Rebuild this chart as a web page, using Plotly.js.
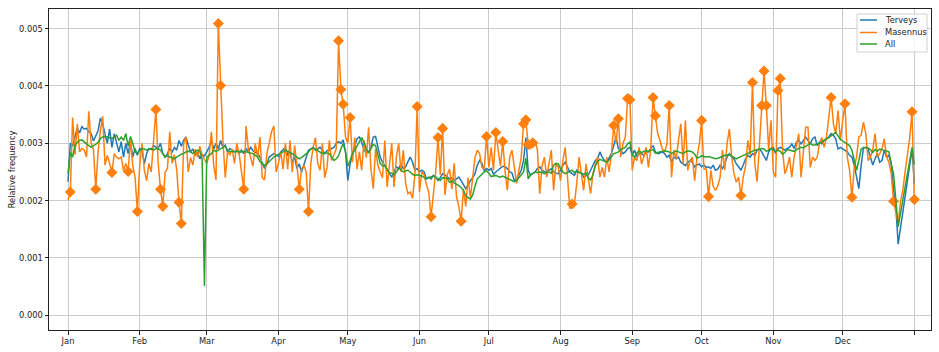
<!DOCTYPE html>
<html><head><meta charset="utf-8">
<script src="https://cdn.plot.ly/plotly-3.0.1.min.js"></script>
<style>html,body{margin:0;padding:0;background:#fff}#chart{width:939px;height:352px}</style>
</head><body><div id="chart"></div>
<script>
// Daily values, index 0 = 2020-01-01, last = 2021-01-01
const terveys = [
0.00233,0.00300,0.00295,0.00312,0.00327,0.00318,0.00329,0.00325,0.00326,0.00320,
0.00317,0.00304,0.00312,0.00322,0.00344,0.00334,0.00316,0.00300,0.00325,0.00293,
0.00317,0.00300,0.00285,0.00303,0.00276,0.00300,0.00282,0.00303,0.00276,0.00291,
0.00279,0.00291,0.00288,0.00264,0.00282,0.00291,0.00289,0.00296,0.00293,0.00291,
0.00300,0.00282,0.00276,0.00282,0.00291,0.00284,0.00293,0.00288,0.00305,0.00295,
0.00305,0.00311,0.00297,0.00285,0.00290,0.00279,0.00285,0.00273,0.00280,0.00278,
0.00285,0.00293,0.00305,0.00290,0.00300,0.00290,0.00305,0.00293,0.00297,0.00285,
0.00291,0.00288,0.00285,0.00288,0.00282,0.00288,0.00282,0.00291,0.00285,0.00293,
0.00287,0.00284,0.00282,0.00276,0.00267,0.00256,0.00264,0.00276,0.00279,0.00282,
0.00280,0.00277,0.00285,0.00289,0.00293,0.00280,0.00284,0.00267,0.00276,0.00256,
0.00264,0.00250,0.00264,0.00276,0.00288,0.00290,0.00293,0.00288,0.00291,0.00293,
0.00288,0.00282,0.00287,0.00288,0.00291,0.00293,0.00300,0.00303,0.00300,0.00306,
0.00285,0.00235,0.00264,0.00282,0.00296,0.00308,0.00311,0.00302,0.00288,0.00285,
0.00285,0.00293,0.00311,0.00312,0.00296,0.00276,0.00267,0.00260,0.00253,0.00247,
0.00241,0.00250,0.00259,0.00256,0.00264,0.00256,0.00259,0.00268,0.00276,0.00267,
0.00253,0.00256,0.00250,0.00253,0.00250,0.00238,0.00241,0.00238,0.00244,0.00241,
0.00235,0.00240,0.00247,0.00245,0.00242,0.00238,0.00240,0.00235,0.00238,0.00241,
0.00235,0.00227,0.00221,0.00227,0.00235,0.00240,0.00247,0.00262,0.00270,0.00265,
0.00253,0.00256,0.00253,0.00256,0.00246,0.00250,0.00253,0.00256,0.00260,0.00259,
0.00256,0.00250,0.00248,0.00235,0.00238,0.00245,0.00253,0.00270,0.00310,0.00253,
0.00244,0.00247,0.00250,0.00256,0.00259,0.00253,0.00250,0.00252,0.00253,0.00256,
0.00250,0.00248,0.00247,0.00253,0.00262,0.00267,0.00258,0.00250,0.00247,0.00244,
0.00253,0.00250,0.00249,0.00241,0.00244,0.00245,0.00253,0.00262,0.00270,0.00273,
0.00285,0.00276,0.00270,0.00267,0.00276,0.00282,0.00296,0.00311,0.00291,0.00288,
0.00282,0.00285,0.00291,0.00293,0.00279,0.00288,0.00276,0.00282,0.00282,0.00279,
0.00285,0.00285,0.00291,0.00296,0.00285,0.00282,0.00283,0.00285,0.00282,0.00276,
0.00279,0.00267,0.00276,0.00273,0.00276,0.00267,0.00264,0.00261,0.00267,0.00270,
0.00267,0.00259,0.00262,0.00264,0.00259,0.00262,0.00258,0.00259,0.00256,0.00262,
0.00253,0.00255,0.00262,0.00256,0.00264,0.00276,0.00282,0.00276,0.00273,0.00264,
0.00259,0.00253,0.00262,0.00273,0.00279,0.00276,0.00282,0.00279,0.00288,0.00291,
0.00285,0.00276,0.00270,0.00285,0.00291,0.00293,0.00282,0.00291,0.00293,0.00291,
0.00288,0.00291,0.00293,0.00299,0.00291,0.00302,0.00305,0.00299,0.00305,0.00311,
0.00305,0.00299,0.00308,0.00311,0.00296,0.00302,0.00299,0.00305,0.00308,0.00311,
0.00317,0.00314,0.00308,0.00290,0.00293,0.00290,0.00288,0.00285,0.00279,0.00276,
0.00262,0.00240,0.00221,0.00262,0.00293,0.00292,0.00290,0.00276,0.00262,0.00273,
0.00282,0.00267,0.00270,0.00288,0.00276,0.00279,0.00264,0.00220,0.00189,0.00124,
null,null,null,null,null,0.00290,0.00230
];
const masennus = [
0.00201,0.00215,0.00345,0.00280,0.00334,0.00285,0.00291,0.00288,0.00276,0.00356,
0.00300,0.00290,0.00220,0.00285,0.00322,0.00347,0.00262,0.00279,0.00265,0.00249,
0.00282,0.00276,0.00273,0.00276,0.00253,0.00265,0.00251,0.00305,0.00262,0.00240,
0.00181,0.00262,0.00300,0.00253,0.00235,0.00265,0.00250,0.00311,0.00359,0.00265,
0.00220,0.00190,0.00250,0.00256,0.00320,0.00265,0.00280,0.00255,0.00197,0.00160,
0.00300,0.00311,0.00250,0.00275,0.00262,0.00290,0.00276,0.00295,0.00280,0.00272,
0.00265,0.00278,0.00320,0.00262,0.00236,0.00509,0.00401,0.00305,0.00240,0.00285,
0.00280,0.00290,0.00265,0.00300,0.00282,0.00255,0.00220,0.00330,0.00290,0.00275,
0.00260,0.00300,0.00276,0.00311,0.00240,0.00236,0.00282,0.00300,0.00320,0.00330,
0.00250,0.00265,0.00285,0.00255,0.00300,0.00255,0.00305,0.00250,0.00296,0.00262,
0.00220,0.00255,0.00262,0.00250,0.00181,0.00265,0.00293,0.00310,0.00265,0.00253,
0.00300,0.00240,0.00258,0.00305,0.00270,0.00280,0.00290,0.00479,0.00394,0.00368,
0.00311,0.00300,0.00345,0.00267,0.00310,0.00255,0.00285,0.00253,0.00305,0.00275,
0.00328,0.00256,0.00221,0.00290,0.00262,0.00250,0.00240,0.00305,0.00224,0.00262,
0.00300,0.00224,0.00276,0.00300,0.00250,0.00288,0.00230,0.00212,0.00215,0.00204,
0.00245,0.00364,0.00215,0.00250,0.00245,0.00228,0.00215,0.00172,0.00215,0.00250,
0.00310,0.00245,0.00326,0.00210,0.00245,0.00255,0.00220,0.00265,0.00207,0.00190,
0.00164,0.00220,0.00190,0.00240,0.00205,0.00240,0.00275,0.00288,0.00282,0.00258,
0.00255,0.00312,0.00258,0.00293,0.00253,0.00319,0.00285,0.00260,0.00303,0.00252,
0.00218,0.00276,0.00288,0.00258,0.00230,0.00253,0.00276,0.00334,0.00341,0.00298,
0.00290,0.00301,0.00305,0.00288,0.00212,0.00260,0.00276,0.00241,0.00264,0.00288,
0.00218,0.00264,0.00258,0.00235,0.00270,0.00293,0.00241,0.00186,0.00194,0.00195,
0.00230,0.00276,0.00247,0.00218,0.00264,0.00241,0.00212,0.00247,0.00264,0.00276,
0.00241,0.00258,0.00241,0.00276,0.00250,0.00282,0.00331,0.00300,0.00343,0.00276,
0.00300,0.00310,0.00378,0.00376,0.00253,0.00276,0.00270,0.00293,0.00264,0.00276,
0.00293,0.00258,0.00290,0.00380,0.00348,0.00317,0.00305,0.00290,0.00285,0.00299,
0.00366,0.00241,0.00288,0.00273,0.00305,0.00334,0.00265,0.00340,0.00253,0.00270,
0.00276,0.00235,0.00276,0.00299,0.00340,0.00255,0.00255,0.00207,0.00253,0.00225,
0.00218,0.00225,0.00241,0.00288,0.00253,0.00299,0.00325,0.00276,0.00247,0.00232,
0.00241,0.00209,0.00241,0.00260,0.00305,0.00280,0.00406,0.00265,0.00233,0.00300,
0.00366,0.00426,0.00366,0.00288,0.00340,0.00250,0.00241,0.00392,0.00413,0.00288,
0.00247,0.00258,0.00276,0.00241,0.00276,0.00300,0.00317,0.00241,0.00288,0.00328,
0.00328,0.00258,0.00276,0.00270,0.00276,0.00300,0.00310,0.00293,0.00311,0.00345,
0.00380,0.00334,0.00317,0.00357,0.00305,0.00340,0.00369,0.00276,0.00253,0.00206,
0.00258,0.00276,0.00311,0.00314,0.00337,0.00317,0.00270,0.00276,0.00288,0.00317,
0.00276,0.00282,0.00290,0.00308,0.00276,0.00267,0.00247,0.00199,0.00180,0.00160,
0.00198,0.00218,0.00250,0.00276,0.00310,0.00355,0.00202
];
const allSeries = [
0.00247,0.00284,0.00276,0.00296,0.00302,0.00305,0.00306,0.00302,0.00299,0.00296,
0.00293,0.00296,0.00298,0.00302,0.00308,0.00311,0.00312,0.00311,0.00309,0.00308,
0.00311,0.00314,0.00305,0.00311,0.00305,0.00317,0.00295,0.00312,0.00300,0.00285,
0.00283,0.00288,0.00291,0.00290,0.00288,0.00290,0.00291,0.00288,0.00291,0.00290,
0.00288,0.00282,0.00276,0.00279,0.00276,0.00275,0.00273,0.00276,0.00279,0.00281,
0.00282,0.00285,0.00286,0.00285,0.00282,0.00285,0.00288,0.00286,0.00272,0.00051,
0.00276,0.00279,0.00282,0.00288,0.00286,0.00288,0.00290,0.00293,0.00295,0.00288,
0.00285,0.00286,0.00285,0.00286,0.00285,0.00285,0.00286,0.00285,0.00284,0.00282,
0.00282,0.00279,0.00276,0.00268,0.00264,0.00261,0.00264,0.00268,0.00273,0.00276,
0.00278,0.00280,0.00282,0.00285,0.00288,0.00286,0.00285,0.00282,0.00279,0.00276,
0.00273,0.00275,0.00278,0.00281,0.00285,0.00290,0.00292,0.00290,0.00287,0.00285,
0.00282,0.00284,0.00283,0.00282,0.00276,0.00270,0.00273,0.00278,0.00290,0.00300,
0.00285,0.00260,0.00270,0.00282,0.00288,0.00296,0.00304,0.00310,0.00302,0.00290,
0.00283,0.00290,0.00298,0.00296,0.00282,0.00265,0.00261,0.00261,0.00255,0.00248,
0.00248,0.00245,0.00250,0.00256,0.00254,0.00250,0.00252,0.00253,0.00250,0.00246,
0.00244,0.00245,0.00244,0.00243,0.00240,0.00238,0.00240,0.00241,0.00243,0.00241,
0.00238,0.00235,0.00240,0.00240,0.00239,0.00232,0.00234,0.00231,0.00229,0.00226,
0.00223,0.00218,0.00209,0.00205,0.00203,0.00210,0.00225,0.00238,0.00242,0.00247,
0.00250,0.00252,0.00248,0.00242,0.00243,0.00244,0.00242,0.00241,0.00243,0.00241,
0.00240,0.00238,0.00236,0.00233,0.00235,0.00240,0.00245,0.00250,0.00274,0.00238,
0.00245,0.00247,0.00250,0.00249,0.00250,0.00249,0.00247,0.00249,0.00250,0.00248,
0.00262,0.00265,0.00264,0.00256,0.00250,0.00247,0.00249,0.00251,0.00253,0.00249,
0.00251,0.00249,0.00248,0.00246,0.00248,0.00240,0.00236,0.00245,0.00260,0.00268,
0.00272,0.00270,0.00268,0.00267,0.00271,0.00276,0.00282,0.00283,0.00285,0.00289,
0.00291,0.00293,0.00299,0.00302,0.00280,0.00276,0.00283,0.00286,0.00284,0.00286,
0.00287,0.00286,0.00288,0.00289,0.00283,0.00284,0.00286,0.00287,0.00287,0.00286,
0.00285,0.00282,0.00285,0.00287,0.00285,0.00283,0.00282,0.00285,0.00287,0.00286,
0.00285,0.00281,0.00274,0.00276,0.00278,0.00277,0.00276,0.00277,0.00276,0.00275,
0.00273,0.00274,0.00275,0.00277,0.00279,0.00280,0.00280,0.00278,0.00276,0.00273,
0.00275,0.00277,0.00279,0.00281,0.00283,0.00285,0.00287,0.00288,0.00289,0.00290,
0.00291,0.00290,0.00286,0.00288,0.00291,0.00289,0.00286,0.00288,0.00286,0.00281,
0.00284,0.00289,0.00288,0.00287,0.00286,0.00289,0.00291,0.00293,0.00292,0.00295,
0.00297,0.00300,0.00297,0.00297,0.00299,0.00300,0.00303,0.00305,0.00308,0.00310,
0.00313,0.00316,0.00319,0.00313,0.00307,0.00304,0.00301,0.00299,0.00296,0.00288,
0.00270,0.00253,0.00270,0.00290,0.00292,0.00293,0.00292,0.00289,0.00284,0.00289,
0.00286,0.00290,0.00289,0.00288,0.00286,0.00285,0.00264,0.00247,0.00201,0.00154,
null,null,null,null,null,0.00293,0.00263
];
// Day indices of the Masennus points flagged with a diamond
const masennusOutlierDays = [1,12,19,26,30,38,40,41,48,49,65,66,76,100,104,117,118,119,122,
151,157,160,162,170,181,185,188,197,198,199,201,218,236,238,242,243,253,254,260,274,277,
291,296,300,301,302,307,308,330,336,339,357,365,366];
const seriesNames = ['Terveys', 'Masennus', 'All'];
const seriesColors = ['#1f77b4', '#ff7f0e', '#2ca02c'];
const monthTicks = ['2020-01-01','2020-02-01','2020-03-01','2020-04-01','2020-05-01','2020-06-01',
'2020-07-01','2020-08-01','2020-09-01','2020-10-01','2020-11-01','2020-12-01','2021-01-01'];
const monthLabels = ['Jan','Feb','Mar','Apr','May','Jun','Jul','Aug','Sep','Oct','Nov','Dec',''];
const yTicks = [0, 0.001, 0.002, 0.003, 0.004, 0.005];
const yTickLabels = ['0.000','0.001','0.002','0.003','0.004','0.005'];

function dayToDate(i) {
  return new Date(Date.UTC(2020, 0, 1 + i)).toISOString().slice(0, 10);
}
const dates = terveys.map((_, i) => dayToDate(i));

const traces = [
  {x: dates, y: terveys, name: seriesNames[0], type: 'scatter', mode: 'lines',
   line: {color: seriesColors[0], width: 1.5}, connectgaps: true, showlegend: false},
  {x: dates, y: masennus, name: seriesNames[1], type: 'scatter', mode: 'lines',
   line: {color: seriesColors[1], width: 1.5}, connectgaps: true, showlegend: false},
  {x: masennusOutlierDays.map(i => dates[i]), y: masennusOutlierDays.map(i => masennus[i]),
   type: 'scatter', mode: 'markers', showlegend: false, hoverinfo: 'skip',
   marker: {symbol: 'diamond', size: 8.5, color: seriesColors[1], line: {width: 0}}},
  {x: dates, y: allSeries, name: seriesNames[2], type: 'scatter', mode: 'lines',
   line: {color: seriesColors[2], width: 1.5}, connectgaps: true, showlegend: false}
];

const FS = 8.3;
const W = 939, H = 352, M = {l: 49, r: 8, t: 9, b: 22};
const PW = W - M.l - M.r, PH = H - M.t - M.b;
const px = v => (v - M.l) / PW;          // pixel -> paper x
const py = v => 1 - (v - M.t) / PH;      // pixel -> paper y

// Matplotlib-style legend box drawn in paper space
const shapes = [{
  type: 'rect', xref: 'paper', yref: 'paper',
  x0: px(857), x1: px(927), y0: py(52), y1: py(14),
  line: {color: '#d0d0d0', width: 1}, fillcolor: 'rgba(255,255,255,0.85)', layer: 'above'
}];
const annotations = [];
const rowY = [20, 32.5, 44];
seriesNames.forEach((name, k) => {
  shapes.push({type: 'line', xref: 'paper', yref: 'paper',
    x0: px(860), x1: px(877), y0: py(rowY[k]), y1: py(rowY[k]),
    line: {color: seriesColors[k], width: 1.5}, layer: 'above'});
  annotations.push({xref: 'paper', yref: 'paper', x: px(883), y: py(rowY[k]),
    xanchor: 'left', yanchor: 'middle', text: name, showarrow: false,
    font: {family: 'DejaVu Sans, sans-serif', size: FS, color: '#222'}});
});

const axisCommon = {
  showgrid: true, gridcolor: '#cbcbcb', gridwidth: 1,
  showline: true, mirror: true, linecolor: '#222', linewidth: 1,
  ticks: 'outside', ticklen: 3.5, tickcolor: '#222', tickwidth: 1,
  zeroline: false, automargin: false,
  tickfont: {family: 'DejaVu Sans, sans-serif', size: FS, color: '#222'}
};

const layout = {
  width: W, height: H, margin: M,
  paper_bgcolor: '#ffffff', plot_bgcolor: '#ffffff',
  font: {family: 'DejaVu Sans, sans-serif', size: FS, color: '#222'},
  showlegend: false,
  shapes: shapes, annotations: annotations,
  xaxis: Object.assign({}, axisCommon, {
    type: 'date', range: ['2019-12-23 18:43', '2021-01-08 04:48'],
    tickmode: 'array', tickvals: monthTicks, ticktext: monthLabels
  }),
  yaxis: Object.assign({}, axisCommon, {
    range: [-0.000257, 0.005343],
    tickmode: 'array', tickvals: yTicks, ticktext: yTickLabels,
    title: {text: 'Relative frequency', font: {size: FS, color: '#222'}, standoff: 2}
  })
};

Plotly.newPlot('chart', traces, layout, {staticPlot: true, displayModeBar: false});
</script>
</body></html>
